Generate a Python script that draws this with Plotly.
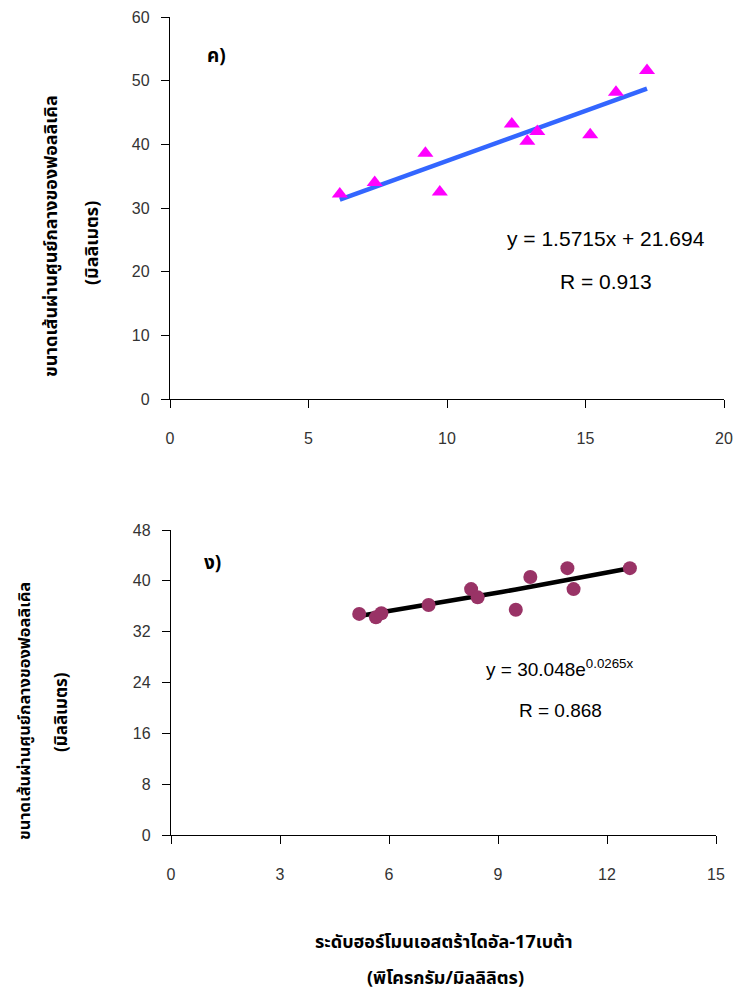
import numpy as np
import plotly.graph_objects as go

# ---- Panel ค) data ----
top_x = [6.13, 7.39, 9.22, 9.74, 12.34, 12.90, 13.26, 15.17, 16.10, 17.22]
top_y = [32.2, 34.0, 38.6, 32.5, 43.2, 40.5, 42.0, 41.5, 48.2, 51.6]
top_slope = 1.5715
top_intercept = 21.694
top_r = "0.913"

# ---- Panel ง) data ----
bot_x = [5.18, 5.64, 5.79, 7.09, 8.26, 8.44, 9.49, 9.89, 10.91, 11.08, 12.63]
bot_y = [34.8, 34.25, 34.9, 36.2, 38.7, 37.4, 35.45, 40.6, 42.0, 38.7, 42.0]
bot_a = 30.048
bot_b = 0.0265
bot_r = "0.868"

top_xticks = [0, 5, 10, 15, 20]
top_yticks = [0, 10, 20, 30, 40, 50, 60]
bot_xticks = [0, 3, 6, 9, 12, 15]
bot_yticks = [0, 8, 16, 24, 32, 40, 48]

W, H = 735, 993

fig = go.Figure()

# trend line top (linear fit drawn between data extremes)
tx = np.array([min(top_x), max(top_x)])
fig.add_trace(go.Scatter(x=tx, y=top_slope * tx + top_intercept, mode="lines",
                         line=dict(color="#3366FF", width=4.5), xaxis="x", yaxis="y",
                         showlegend=False, hoverinfo="skip"))
fig.add_trace(go.Scatter(x=top_x, y=top_y, mode="markers",
                         marker=dict(symbol="triangle-up", size=14, color="#FF00FF"),
                         xaxis="x", yaxis="y", showlegend=False))

# trend line bottom (exponential fit)
bx = np.linspace(min(bot_x), max(bot_x), 20)
fig.add_trace(go.Scatter(x=bx, y=bot_a * np.exp(bot_b * bx), mode="lines",
                         line=dict(color="#000000", width=4.5), xaxis="x2", yaxis="y2",
                         showlegend=False, hoverinfo="skip"))
fig.add_trace(go.Scatter(x=bot_x, y=bot_y, mode="markers",
                         marker=dict(symbol="circle", size=14, color="#993366"),
                         xaxis="x2", yaxis="y2", showlegend=False))

tickfont = dict(family="Liberation Sans, Arial, sans-serif", size=16, color="#333333")
axis_common = dict(showline=True, linecolor="#000000", linewidth=1.3, ticks="outside",
                   ticklen=8, tickcolor="#000000", tickwidth=1.3, showgrid=False,
                   zeroline=False, tickfont=tickfont, mirror=False, fixedrange=True,
                   automargin=False, ticklabeloverflow="allow")

fig.update_layout(
    width=W, height=H,
    margin=dict(l=0, r=0, t=0, b=0, autoexpand=False),
    paper_bgcolor="white", plot_bgcolor="rgba(0,0,0,0)",
    xaxis=dict(domain=[170 / W, 724 / W], range=[0, 20], tickvals=top_xticks,
               anchor="y", ticklabelstandoff=17, **axis_common),
    yaxis=dict(domain=[1 - 399 / H, 1 - 17 / H], range=[0, 60], tickvals=top_yticks,
               anchor="x", ticklabelstandoff=8, **axis_common),
    xaxis2=dict(domain=[171 / W, 716 / W], range=[0, 15], tickvals=bot_xticks,
                anchor="y2", ticklabelstandoff=17, **axis_common),
    yaxis2=dict(domain=[1 - 835 / H, 1 - 530 / H], range=[0, 48], tickvals=bot_yticks,
                anchor="x2", ticklabelstandoff=8, **axis_common),
)

thai = "Noto Sans Thai, Loma, Garuda, Tahoma, sans-serif"
eq_family = "Liberation Sans, Arial, sans-serif"

ann = []
# y titles top
ann.append(dict(text="<b>ขนาดเส้นผ่านศูนย์กลางของฟอลลิเคิล</b>", x=52 / W, y=1 - 236 / H,
                textangle=-90, font=dict(family=thai, size=18, color="#000")))
ann.append(dict(text="<b>(มิลลิเมตร)</b>", x=93 / W, y=1 - 243 / H,
                textangle=-90, font=dict(family=thai, size=18, color="#000")))
# y titles bottom
ann.append(dict(text="<b>ขนาดเส้นผ่านศูนย์กลางของฟอลลิเคิล</b>", x=24 / W, y=1 - 711 / H,
                textangle=-90, font=dict(family=thai, size=16.5, color="#000")))
ann.append(dict(text="<b>(มิลลิเมตร)</b>", x=62 / W, y=1 - 712 / H,
                textangle=-90, font=dict(family=thai, size=17, color="#000")))
# x title
ann.append(dict(text="<b>ระดับฮอร์โมนเอสตร้าไดอัล-17เบต้า</b>", x=444 / W, y=1 - 942 / H,
                font=dict(family=thai, size=18, color="#000")))
ann.append(dict(text="<b>(พิโครกรัม/มิลลิลิตร)</b>", x=445 / W, y=1 - 978 / H,
                font=dict(family=thai, size=18, color="#000")))
# panel labels
ann.append(dict(text="<b>ค)</b>", x=216 / W, y=1 - 57 / H,
                font=dict(family=thai, size=19, color="#000")))
ann.append(dict(text="<b>ง)</b>", x=213 / W, y=1 - 563 / H,
                font=dict(family=thai, size=19, color="#000")))
# equations
ann.append(dict(text=f"y = {top_slope}x + {top_intercept}", x=606 / W, y=1 - 238 / H,
                font=dict(family=eq_family, size=21, color="#000")))
ann.append(dict(text=f"R = {top_r}", x=606 / W, y=1 - 281 / H,
                font=dict(family=eq_family, size=21, color="#000")))
ann.append(dict(text=f"y = {bot_a}e<sup>{bot_b}x</sup>", x=560 / W, y=1 - 668 / H,
                font=dict(family=eq_family, size=19, color="#000")))
ann.append(dict(text=f"R = {bot_r}", x=560 / W, y=1 - 710 / H,
                font=dict(family=eq_family, size=19, color="#000")))

for a in ann:
    a.update(xref="paper", yref="paper", showarrow=False, xanchor="center", yanchor="middle")
fig.update_layout(annotations=ann)

fig.write_html("out.html", config={"displayModeBar": False},
               post_script="document.body.style.margin='0px';document.body.style.overflow='hidden';")
